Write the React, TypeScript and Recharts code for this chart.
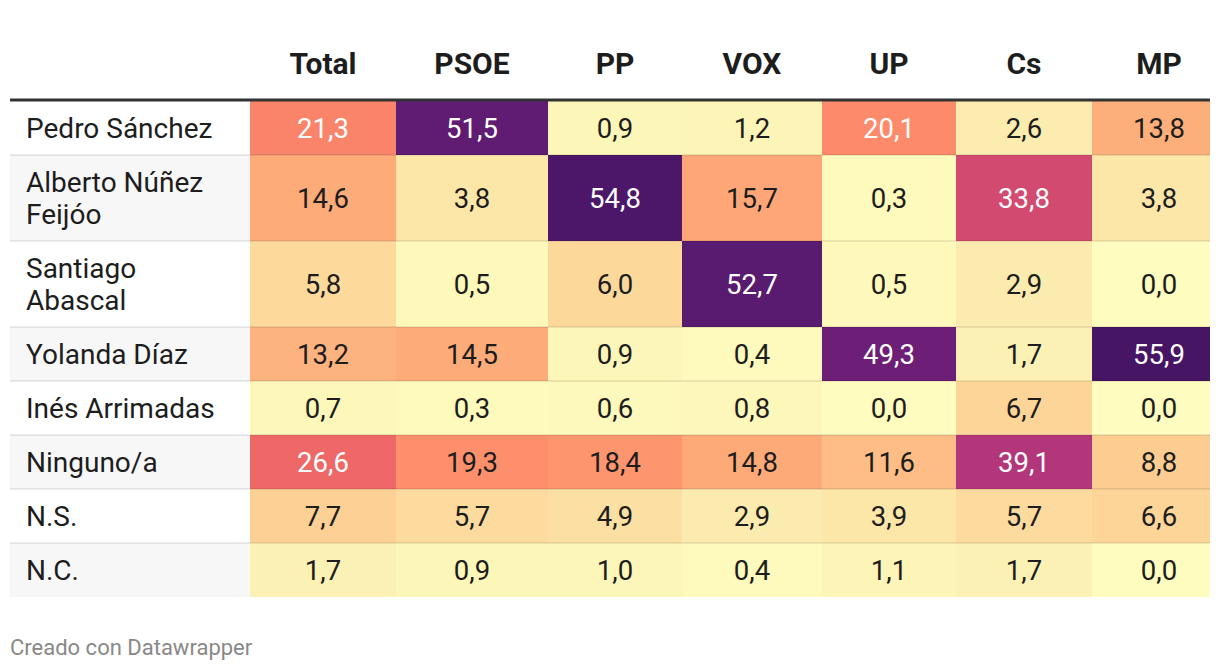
import { ComposedChart, XAxis, YAxis, ReferenceArea, ReferenceLine } from 'recharts'

// rows (line breaks as in the original table)
const candidates = [
  'Pedro Sánchez',
  'Alberto Núñez\nFeijóo',
  'Santiago\nAbascal',
  'Yolanda Díaz',
  'Inés Arrimadas',
  'Ninguno/a',
  'N.S.',
  'N.C.',
]
const parties = ['Total', 'PSOE', 'PP', 'VOX', 'UP', 'Cs', 'MP']

const total = [21.3, 14.6, 5.8, 13.2, 0.7, 26.6, 7.7, 1.7]
const psoe = [51.5, 3.8, 0.5, 14.5, 0.3, 19.3, 5.7, 0.9]
const pp = [0.9, 54.8, 6.0, 0.9, 0.6, 18.4, 4.9, 1.0]
const vox = [1.2, 15.7, 52.7, 0.4, 0.8, 14.8, 2.9, 0.4]
const up = [20.1, 0.3, 0.5, 49.3, 0.0, 11.6, 3.9, 1.1]
const cs = [2.6, 33.8, 2.9, 1.7, 6.7, 39.1, 5.7, 1.7]
const mp = [13.8, 3.8, 0.0, 55.9, 0.0, 8.8, 6.6, 0.0]
const values = [total, psoe, pp, vox, up, cs, mp]

// layout
const W = 1220
const H = 672
const tableW = 1200
const labelColW = 240
const colW = [146, 152, 134, 140, 134, 136, 134]
const headerH = 101
const lineH = 32
const rowH = candidates.map((c) => 54 + (c.split('\n').length - 1) * lineH)
const rowsH = rowH.reduce((a, b) => a + b, 0)
const footerH = H - headerH - rowsH
const rowTop = rowH.map((_, i) => rowH.slice(0, i).reduce((a, b) => a + b, 0))
const colLeft = colW.map((_, i) => labelColW + colW.slice(0, i).reduce((a, b) => a + b, 0))

const FONT = 'Roboto, "Noto Sans", sans-serif'
const INK = '#1d1d1d'

// sequential scale, light yellow -> purple
const stops: [number, string][] = [
  [0, '#fefcbe'],
  [2, '#fcefb3'],
  [4, '#fce5a7'],
  [6, '#fdd89b'],
  [9, '#fdcb90'],
  [12, '#febb86'],
  [14, '#fdae7a'],
  [16, '#fea476'],
  [20, '#fd8b6b'],
  [26.6, '#ee6868'],
  [33.8, '#d24a70'],
  [39.1, '#b3367a'],
  [49.3, '#6d1e77'],
  [52, '#5c1c71'],
  [56, '#451564'],
]

const hex = (h: string) => [1, 3, 5].map((i) => parseInt(h.slice(i, i + 2), 16))

function colorFor(v: number) {
  for (let i = 1; i < stops.length; i++) {
    const [v0, c0] = stops[i - 1]
    const [v1, c1] = stops[i]
    if (v <= v1) {
      const t = (v - v0) / (v1 - v0)
      const a = hex(c0)
      const b = hex(c1)
      return `rgb(${a.map((x, k) => Math.round(x + (b[k] - x) * t)).join(',')})`
    }
  }
  return stops[stops.length - 1][1]
}

const fmt = (v: number) => v.toFixed(1).replace('.', ',')

type TextOpts = {
  align?: 'middle' | 'start'
  dx?: number
  fill?: string
  size?: number
  weight?: number
  bottom?: number
  top?: number
}

const textContent = (text: string, o: TextOpts = {}) => (props: any) => {
  const vb = props.viewBox || props
  const { x, y, width, height } = vb
  const size = o.size ?? 27.5
  const lines = text.split('\n')
  const tx = o.align === 'start' ? x + (o.dx ?? 0) : x + width / 2
  let first: number
  if (o.bottom != null) first = y + height - o.bottom
  else if (o.top != null) first = y + o.top
  else first = y + height / 2 + size * 0.355 - ((lines.length - 1) * lineH) / 2
  return (
    <text
      textAnchor={o.align === 'start' ? 'start' : 'middle'}
      fontFamily={FONT}
      fontSize={size}
      fontWeight={o.weight ?? 400}
      fill={o.fill ?? INK}
    >
      {lines.map((l, i) => (
        <tspan key={i} x={tx} y={first + i * lineH}>
          {l}
        </tspan>
      ))}
    </text>
  )
}

export default function App() {
  return (
    <div style={{ position: 'absolute', left: 0, top: 0, background: '#fff' }}>
      <ComposedChart width={W} height={H} margin={{ top: 0, right: 10, bottom: 0, left: 10 }}>
        <XAxis type="number" dataKey="x" domain={[0, tableW]} allowDataOverflow hide />
        <YAxis type="number" dataKey="y" domain={[-headerH, rowsH + footerH]} allowDataOverflow reversed hide />

        {/* header */}
        {parties.map((p, j) => (
          <ReferenceArea
            key={'h' + p}
            x1={colLeft[j]}
            x2={colLeft[j] + colW[j]}
            y1={-headerH}
            y2={0}
            fill="none"
            stroke="none"
            ifOverflow="hidden"
            label={textContent(p, { weight: 700, size: 30, bottom: 27 })}
          />
        ))}

        {/* row label column */}
        {candidates.map((c, i) => (
          <ReferenceArea
            key={'l' + i}
            x1={0}
            x2={labelColW}
            y1={rowTop[i]}
            y2={rowTop[i] + rowH[i]}
            fill={i % 2 === 1 ? '#f7f7f7' : '#ffffff'}
            fillOpacity={1}
            stroke="none"
            ifOverflow="hidden"
            label={textContent(c, { align: 'start', dx: 16, size: 28 })}
          />
        ))}

        {/* heat cells */}
        {values.map((col, j) =>
          col.map((v, i) => (
            <ReferenceArea
              key={`c${j}-${i}`}
              x1={colLeft[j]}
              x2={colLeft[j] + colW[j]}
              y1={rowTop[i]}
              y2={rowTop[i] + rowH[i]}
              fill={colorFor(v)}
              fillOpacity={1}
              stroke="none"
              ifOverflow="hidden"
              label={textContent(fmt(v), { fill: v >= 20 ? '#ffffff' : INK })}
            />
          ))
        )}

        {/* row separators */}
        {rowTop.slice(1).map((t) => (
          <ReferenceLine key={'s' + t} y={t} stroke="rgba(0,0,0,0.08)" strokeWidth={2} ifOverflow="hidden" />
        ))}
        <ReferenceLine y={-1} stroke="#333333" strokeWidth={3} ifOverflow="hidden" />

        {/* footer */}
        <ReferenceArea
          x1={0}
          x2={labelColW}
          y1={rowsH}
          y2={rowsH + footerH}
          fill="none"
          stroke="none"
          ifOverflow="hidden"
          label={textContent('Creado con Datawrapper', { align: 'start', dx: 0, size: 22, fill: '#888888', top: 58 })}
        />
      </ComposedChart>
    </div>
  )
}
